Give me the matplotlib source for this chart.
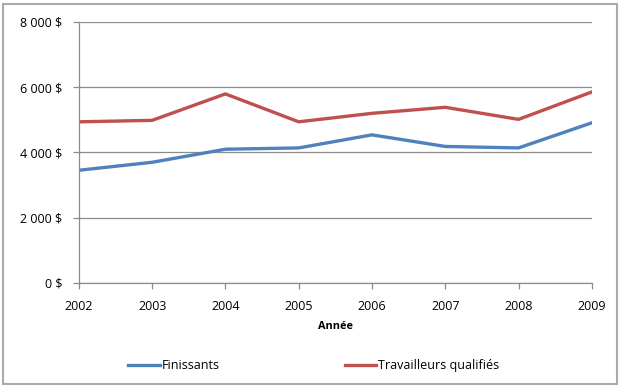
import matplotlib
matplotlib.use('Agg')
from matplotlib import pyplot as plt
from matplotlib.patches import Rectangle
from matplotlib.ticker import FuncFormatter

# data
years = [2002, 2003, 2004, 2005, 2006, 2007, 2008, 2009]
finissants = [3455, 3700, 4100, 4140, 4540, 4185, 4140, 4910]
travailleurs = [4940, 4985, 5795, 4940, 5200, 5385, 5015, 5855]
yticks = [0, 2000, 4000, 6000, 8000]

plt.rcParams['font.family'] = ['Open Sans', 'DejaVu Sans']

fig = plt.figure(figsize=(6.21, 3.89), dpi=100)
ax = fig.add_axes([0.127, 0.2725, 0.826, 0.671])

# outer frame of the chart (square, light grey)
frame = Rectangle((0.005, 0.013), 0.989, 0.977, transform=fig.transFigure,
                  fill=False, edgecolor='#aaaaaa', linewidth=1.5)
fig.patches.append(frame)

ax.plot(years, finissants, color='#4F81BD', linewidth=2.4, label='Finissants')
ax.plot(years, travailleurs, color='#C0504D', linewidth=2.4, label='Travailleurs qualifiés')

ax.set_xlim(2002, 2009)
ax.set_ylim(0, 8000)
ax.set_xticks(years)
ax.set_yticks(yticks)
ax.yaxis.set_major_formatter(FuncFormatter(lambda v, p: '{:,.0f} $'.format(v).replace(',', ' ')))
ax.grid(axis='y', color='#8c8c8c', linewidth=0.9)
ax.set_axisbelow(True)

for s in ['top', 'right']:
    ax.spines[s].set_visible(False)
for s in ['left', 'bottom']:
    ax.spines[s].set_color('#8c8c8c')
    ax.spines[s].set_linewidth(0.9)
ax.tick_params(axis='both', colors='#8c8c8c', length=4, width=0.9, labelcolor='black', labelsize=9)
ax.tick_params(axis='x', pad=8)
ax.tick_params(axis='y', pad=8)

ax.set_xlabel('Année', fontsize=7.8, fontweight='bold', labelpad=6)

fig.legend(loc='center', bbox_to_anchor=(0.505, 0.06), ncol=2, frameon=False, fontsize=9,
           handlelength=2.55, handletextpad=0.1, columnspacing=10)

fig.savefig('out.png', dpi=100)
